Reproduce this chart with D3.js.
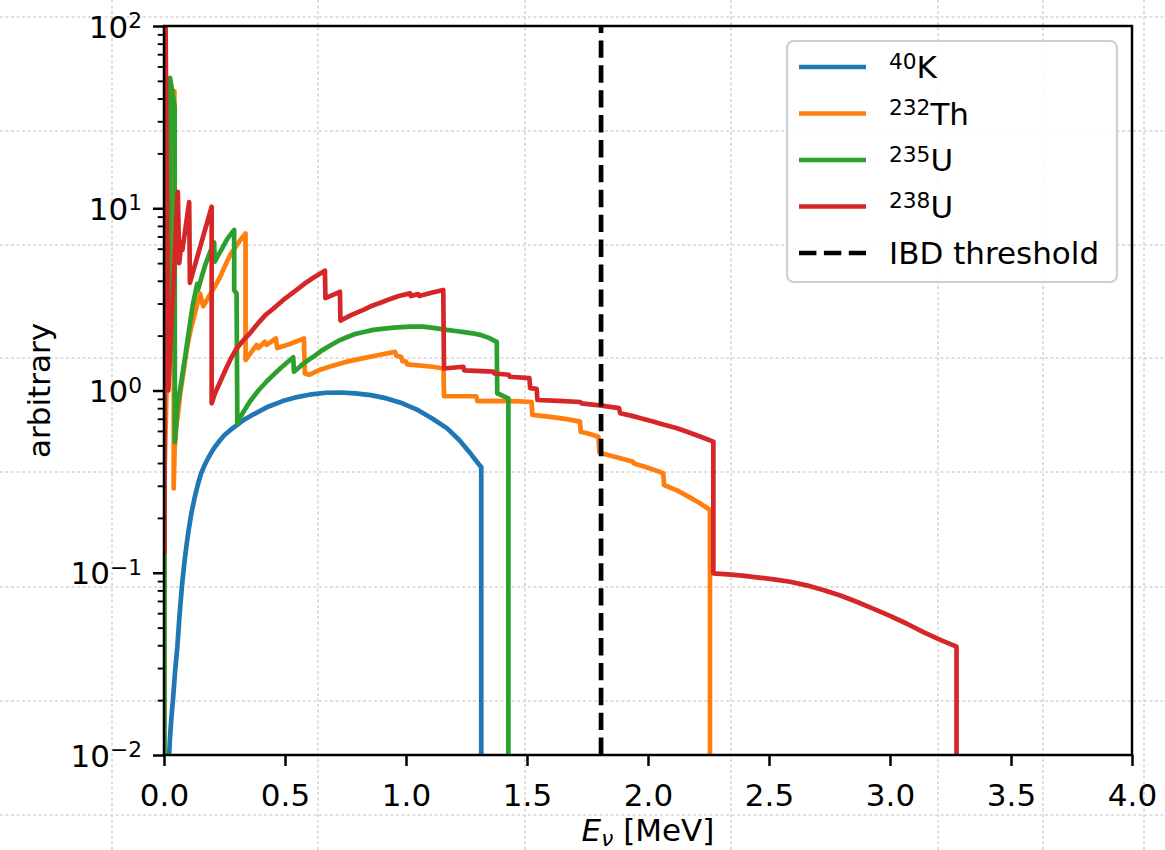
<!DOCTYPE html>
<html>
<head>
<meta charset="utf-8">
<script src="https://cdn.jsdelivr.net/npm/d3@7"></script>
<style>
  body { margin: 0; background: #fff; }
  svg { display: block; }
  text { font-family: "DejaVu Sans", sans-serif; fill: #000; }
</style>
</head>
<body>
<svg id="chart" width="1165" height="850"></svg>
<script>
// Antineutrino spectra of the geo-neutrino emitters, [E (MeV), relative flux]
const k40 = [
  [0.015, 0.005], [0.018, 0.0075], [0.021, 0.010], [0.025, 0.0125], [0.029, 0.015],
  [0.033, 0.0175], [0.037, 0.020], [0.046, 0.029], [0.055, 0.039], [0.064, 0.058],
  [0.074, 0.084], [0.081, 0.104], [0.088, 0.125], [0.095, 0.148], [0.102, 0.172],
  [0.114, 0.215], [0.127, 0.26], [0.14, 0.305], [0.153, 0.35], [0.166, 0.385],
  [0.18, 0.42], [0.195, 0.455], [0.21, 0.49], [0.23, 0.53], [0.25, 0.57],
  [0.27, 0.60], [0.29, 0.63], [0.33, 0.69], [0.37, 0.74], [0.43, 0.815],
  [0.49, 0.875], [0.55, 0.92], [0.61, 0.953], [0.67, 0.972], [0.73, 0.975],
  [0.79, 0.965], [0.855, 0.943], [0.92, 0.905], [0.985, 0.85], [1.05, 0.78],
  [1.11, 0.70], [1.17, 0.62], [1.22, 0.535], [1.27, 0.445], [1.30, 0.395],
  [1.311, 0.38], [1.311, 0.001]
];
const th232 = [
  [0.0008, 0.005], [0.002, 0.33], [0.027, 8.6], [0.029, 17.7], [0.043, 44],
  [0.040, 0.29], [0.044, 0.49], [0.051, 0.63], [0.058, 0.75], [0.068, 0.98],
  [0.08, 1.25], [0.09, 1.55], [0.10, 1.85], [0.11, 2.15], [0.121, 2.44],
  [0.135, 2.9], [0.149, 3.4], [0.162, 2.9], [0.175, 3.1], [0.19, 3.35],
  [0.204, 3.6], [0.218, 3.87], [0.232, 4.2], [0.245, 4.6], [0.259, 5.05],
  [0.273, 5.53], [0.289, 5.95], [0.305, 6.4], [0.321, 6.85], [0.337, 7.28],
  [0.337, 1.47], [0.383, 1.78], [0.39, 1.71], [0.417, 1.85], [0.424, 1.78],
  [0.462, 1.93], [0.468, 1.71], [0.52, 1.80], [0.578, 1.93], [0.582, 1.24],
  [0.60, 1.22], [0.645, 1.30], [0.70, 1.37], [0.755, 1.44], [0.82, 1.50],
  [0.893, 1.57], [0.955, 1.63], [0.96, 1.55], [0.98, 1.53], [0.985, 1.45],
  [1.0, 1.44], [1.005, 1.39], [1.11, 1.35], [1.155, 1.32], [1.157, 0.93],
  [1.29, 0.93], [1.295, 0.875], [1.36, 0.877], [1.42, 0.875], [1.47, 0.871],
  [1.519, 0.865], [1.522, 0.735], [1.57, 0.723], [1.62, 0.71], [1.67, 0.694],
  [1.719, 0.675], [1.722, 0.594], [1.76, 0.577], [1.795, 0.558], [1.80, 0.456],
  [1.87, 0.43], [1.939, 0.406], [1.942, 0.398], [2.0, 0.377], [2.063, 0.352],
  [2.066, 0.303], [2.12, 0.283], [2.16, 0.265], [2.21, 0.243], [2.256, 0.221],
  [2.256, 0.001]
];
const u235 = [
  [0.0015, 0.005], [0.002, 0.2], [0.003, 5], [0.022, 3], [0.025, 52],
  [0.044, 36], [0.045, 0.52], [0.055, 0.82], [0.065, 0.98], [0.075, 1.2],
  [0.088, 1.55], [0.10, 2.0], [0.118, 2.9], [0.137, 3.85], [0.14, 3.55],
  [0.15, 3.95], [0.16, 4.4], [0.172, 4.95], [0.185, 5.5], [0.196, 6.0],
  [0.207, 6.5], [0.21, 5.1], [0.225, 5.55], [0.24, 6.0], [0.252, 6.45],
  [0.265, 6.9], [0.278, 7.25], [0.29, 7.6], [0.29, 3.55], [0.30, 3.4],
  [0.303, 0.66], [0.315, 0.71], [0.33, 0.77], [0.355, 0.87], [0.39, 1.0],
  [0.424, 1.12], [0.45, 1.21], [0.48, 1.32], [0.51, 1.43], [0.534, 1.52],
  [0.537, 1.27], [0.555, 1.33], [0.575, 1.4], [0.596, 1.47], [0.617, 1.53],
  [0.65, 1.65], [0.685, 1.76], [0.72, 1.87], [0.755, 1.96], [0.79, 2.04],
  [0.83, 2.1], [0.865, 2.15], [0.90, 2.18], [0.961, 2.22], [1.02, 2.24],
  [1.071, 2.24], [1.12, 2.2], [1.168, 2.15], [1.205, 2.12], [1.24, 2.09],
  [1.275, 2.06], [1.306, 2.02], [1.34, 1.95], [1.375, 1.85], [1.377, 0.966],
  [1.423, 0.906], [1.423, 0.001]
];
const u238 = [
  [0.0015, 0.13], [0.0025, 500], [0.018, 1.0], [0.057, 12.3], [0.063, 5.0],
  [0.072, 6.5], [0.076, 5.9], [0.104, 10.8], [0.107, 3.9], [0.197, 10.2],
  [0.197, 0.85], [0.21, 0.96], [0.23, 1.1], [0.245, 1.22], [0.26, 1.35],
  [0.28, 1.53], [0.30, 1.7], [0.33, 1.9], [0.355, 2.06], [0.39, 2.35],
  [0.42, 2.6], [0.45, 2.8], [0.493, 3.14], [0.54, 3.5], [0.58, 3.85],
  [0.62, 4.18], [0.665, 4.54], [0.667, 3.21], [0.727, 3.48], [0.729, 2.42],
  [0.775, 2.6], [0.824, 2.77], [0.86, 2.92], [0.90, 3.05], [0.935, 3.18],
  [0.97, 3.3], [1.017, 3.41], [1.02, 3.3], [1.05, 3.38], [1.055, 3.3],
  [1.105, 3.44], [1.154, 3.56], [1.157, 1.32], [1.237, 1.35], [1.24, 1.29],
  [1.36, 1.27], [1.365, 1.24], [1.425, 1.22], [1.428, 1.19], [1.51, 1.17],
  [1.513, 1.03], [1.54, 1.02], [1.543, 0.887], [1.63, 0.878], [1.72, 0.865],
  [1.725, 0.85], [1.80, 0.828], [1.88, 0.80], [1.885, 0.75], [1.93, 0.728],
  [1.97, 0.705], [2.017, 0.678], [2.063, 0.65], [2.12, 0.62], [2.17, 0.588],
  [2.22, 0.556], [2.27, 0.524], [2.27, 0.0993], [2.33, 0.098], [2.39, 0.0965],
  [2.449, 0.0944], [2.52, 0.092], [2.587, 0.0893], [2.655, 0.0853], [2.724, 0.0804],
  [2.795, 0.075], [2.862, 0.0693], [2.93, 0.0636], [3.0, 0.058], [3.07, 0.0525],
  [3.138, 0.0472], [3.21, 0.0427], [3.275, 0.0393], [3.275, 0.001]
];

const ibdThreshold = 1.806;   // MeV
const seriesNames = ["40", "232", "235", "238"];
const seriesElements = ["K", "Th", "U", "U"];
const seriesColors = ["#1f77b4", "#ff7f0e", "#2ca02c", "#d62728"];
const seriesData = [k40, th232, u235, u238];

const xTicks = [0, 0.5, 1, 1.5, 2, 2.5, 3, 3.5, 4];
const xTickLabels = ["0.0", "0.5", "1.0", "1.5", "2.0", "2.5", "3.0", "3.5", "4.0"];
const yTicks = [1e-2, 1e-1, 1, 10, 100];
const yTickExponents = ["\u22122", "\u22121", "0", "1", "2"];

// ---- layout ----
const W = 1165, H = 850;
const plotLeft = 164, plotRight = 1132, plotTop = 26, plotBottom = 755;
const fontSize = 31, supSize = 21.7, lw = 4.7;

const svg = d3.select("#chart");
const x = d3.scaleLinear().domain([0, 4]).range([plotLeft, plotRight]);
const y = d3.scaleLog().domain([1e-2, 1e2]).range([plotBottom, plotTop]);

// faint dotted backdrop
const backdrop = svg.append("g").attr("stroke", "#d6d6d6").attr("stroke-width", 1.6)
  .attr("stroke-dasharray", "3,2.5");
[112, 318, 525, 731, 938, 1043, 1144].forEach(gx =>
  backdrop.append("line").attr("x1", gx).attr("x2", gx).attr("y1", 0).attr("y2", H));
[17, 131, 245, 358, 472, 587, 701, 815].forEach(gy =>
  backdrop.append("line").attr("x1", 0).attr("x2", W).attr("y1", gy).attr("y2", gy));

svg.append("clipPath").attr("id", "plot-clip")
  .append("rect").attr("x", plotLeft).attr("y", plotTop)
  .attr("width", plotRight - plotLeft).attr("height", plotBottom - plotTop);

const plot = svg.append("g").attr("clip-path", "url(#plot-clip)");

const line = d3.line().x(d => x(d[0])).y(d => y(d[1]));

plot.selectAll("path.spectrum").data(seriesData).join("path")
  .attr("class", "spectrum")
  .attr("d", line)
  .attr("fill", "none")
  .attr("stroke", (d, i) => seriesColors[i])
  .attr("stroke-width", lw)
  .attr("stroke-linejoin", "round")
  .attr("stroke-linecap", "square");

// IBD threshold
plot.append("line")
  .attr("x1", x(ibdThreshold)).attr("x2", x(ibdThreshold))
  .attr("y1", y(1e-2)).attr("y2", y(1e2))
  .attr("stroke", "#000").attr("stroke-width", lw)
  .attr("stroke-dasharray", "17.4,7.5");

// ---- axes ----
const xAxis = svg.append("g").attr("transform", `translate(0,${plotBottom})`)
  .call(d3.axisBottom(x).tickValues(xTicks).tickFormat((d, i) => xTickLabels[i])
    .tickSizeInner(11).tickSizeOuter(0).tickPadding(11));
xAxis.select(".domain").remove();
xAxis.selectAll(".tick line").attr("stroke", "#000").attr("stroke-width", 2.5);
xAxis.selectAll(".tick text").attr("font-size", fontSize)
  .attr("font-family", "DejaVu Sans").attr("fill", "#000").attr("y", 51).attr("dy", null);

const yMinor = [];
[-2, -1, 0, 1].forEach(e => { for (let m = 2; m <= 9; m++) yMinor.push(m * Math.pow(10, e)); });

const yAxisMinor = svg.append("g").attr("transform", `translate(${plotLeft},0)`)
  .call(d3.axisLeft(y).tickValues(yMinor).tickFormat("").tickSizeInner(6.3).tickSizeOuter(0));
yAxisMinor.select(".domain").remove();
yAxisMinor.selectAll(".tick line").attr("stroke", "#000").attr("stroke-width", 1.9);

const yAxis = svg.append("g").attr("transform", `translate(${plotLeft},0)`)
  .call(d3.axisLeft(y).tickValues(yTicks).tickFormat("").tickSizeInner(11).tickSizeOuter(0));
yAxis.select(".domain").remove();
yAxis.selectAll(".tick line").attr("stroke", "#000").attr("stroke-width", 2.5);

const yLabels = svg.append("g");
yTicks.forEach((v, i) => {
  const t = yLabels.append("text")
    .attr("x", plotLeft - 22).attr("y", y(v) + 11.5)
    .attr("text-anchor", "end").attr("font-size", fontSize);
  t.append("tspan").text("10");
  t.append("tspan").attr("font-size", supSize).attr("dy", -9.5).text(yTickExponents[i]);
});

// frame
svg.append("rect").attr("x", plotLeft).attr("y", plotTop)
  .attr("width", plotRight - plotLeft).attr("height", plotBottom - plotTop)
  .attr("fill", "none").attr("stroke", "#000").attr("stroke-width", 2.5);

// axis titles
const xt = svg.append("text").attr("x", (plotLeft + plotRight) / 2).attr("y", 841)
  .attr("text-anchor", "middle").attr("font-size", fontSize);
xt.append("tspan").attr("font-style", "italic").text("E");
xt.append("tspan").attr("font-style", "italic").attr("font-size", supSize).attr("dy", 5).text("\u03bd");
xt.append("tspan").attr("dy", -5).text("\u00a0[MeV]");

svg.append("text").attr("transform", `translate(50,${(plotTop + plotBottom) / 2}) rotate(-90)`)
  .attr("text-anchor", "middle").attr("font-size", fontSize).text("arbitrary");

// ---- legend ----
const lg = svg.append("g");
lg.append("rect").attr("x", 787).attr("y", 41).attr("width", 330).attr("height", 241)
  .attr("rx", 7).attr("fill", "#fff").attr("fill-opacity", 0.85)
  .attr("stroke", "#cfcfcf").attr("stroke-width", 2.2);
const rowY = i => 67 + i * 46.5;
seriesNames.forEach((n, i) => {
  lg.append("line").attr("x1", 799).attr("x2", 866).attr("y1", rowY(i)).attr("y2", rowY(i))
    .attr("stroke", seriesColors[i]).attr("stroke-width", lw);
  const t = lg.append("text").attr("x", 889).attr("y", rowY(i) + 11.3).attr("font-size", fontSize);
  t.append("tspan").attr("font-size", supSize).attr("dy", -9.5).text(n);
  t.append("tspan").attr("dy", 9.5).text(seriesElements[i]);
});
lg.append("line").attr("x1", 799).attr("x2", 866).attr("y1", rowY(4)).attr("y2", rowY(4))
  .attr("stroke", "#000").attr("stroke-width", lw).attr("stroke-dasharray", "17.4,7.5");
lg.append("text").attr("x", 889).attr("y", rowY(4) + 11.3).attr("font-size", fontSize)
  .text("IBD threshold");
</script>
</body>
</html>
